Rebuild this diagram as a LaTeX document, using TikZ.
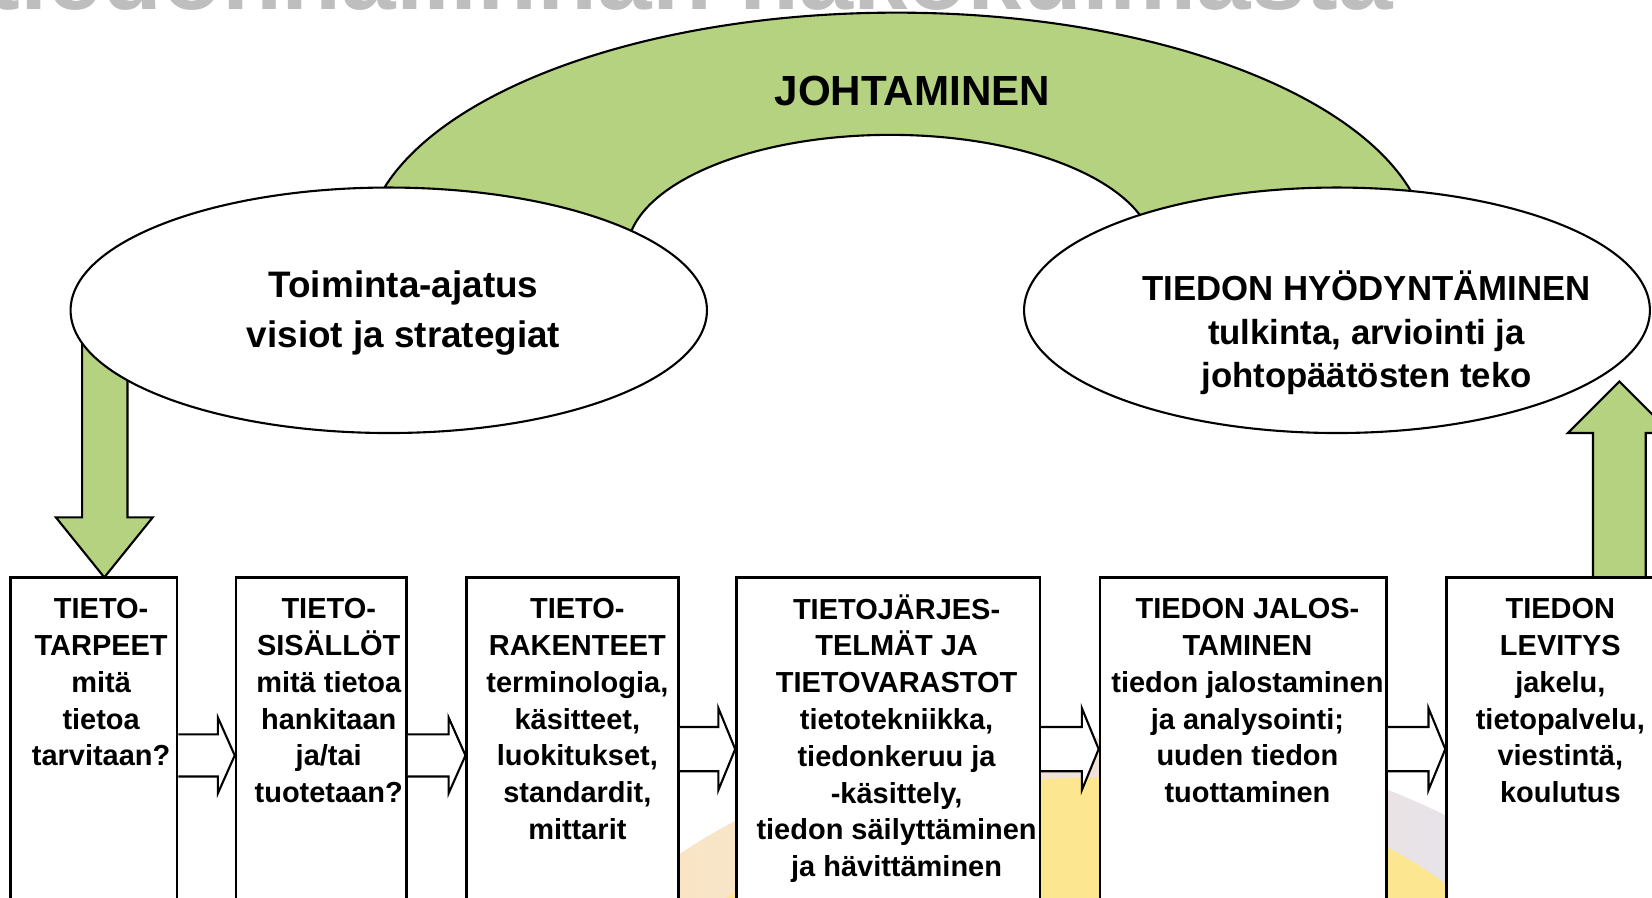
\documentclass[tikz,border=0pt]{standalone}
\usepackage{fontspec}
\setmainfont{Liberation Sans}
\usetikzlibrary{shapes.geometric,calc}
\definecolor{leafgreen}{HTML}{B4D27F}
\definecolor{titlegray}{HTML}{BEBEBE}
\definecolor{sunyellow}{HTML}{FCE690}
\definecolor{sunpeach}{HTML}{FDE6BE}
\definecolor{sunlav}{HTML}{E2E2F3}
\newcommand\linkarrow[5]{%
  \coordinate (tmpc) at (0,#3);
  \draw[flowarrow] ($(#1.east |- tmpc)+(0,-#4)$) -- ($(#2.west |- tmpc)+(-16,-#4)$)
    -- ($(#2.west |- tmpc)+(-16,-#5)$) -- (#2.west |- tmpc)
    -- ($(#2.west |- tmpc)+(-16,#5)$) -- ($(#2.west |- tmpc)+(-16,#4)$)
    -- ($(#1.east |- tmpc)+(0,#4)$);}
\begin{document}
\begin{tikzpicture}[x=1pt,y=-1pt,
  boxstyle/.style={draw, line width=2.4pt, fill=white, rectangle, inner sep=0pt, minimum height=352pt},
  boxtext/.style={anchor=north, align=center, inner sep=0pt, font=\bfseries\fontsize{27.5}{34.9}\selectfont},
  ovalstyle/.style={draw, line width=2pt, fill=white, ellipse, inner sep=0pt, minimum height=233pt},
  flowarrow/.style={draw, line width=2pt, fill=white, line join=miter},
  bigarrow/.style={draw, line width=2pt, fill=leafgreen, line join=miter}]

\useasboundingbox (0,0) rectangle (1568,851.4);

% clipped title at the top
\node[anchor=base east, inner sep=0pt, text=titlegray, font=\bfseries\fontsize{93}{100}\selectfont] (title) at (1322,9) {tiedonhallinnan näkökulmasta};

% faint background image
\shade[left color=sunpeach, right color=sunlav] (1040,1080) ellipse [x radius=560, y radius=380];
\fill[sunyellow] (1040,1100) ellipse [x radius=480, y radius=362];

% arch
\begin{scope}
\clip (0,-50) rectangle (1568,240);
\draw[line width=2pt, fill=leafgreen] (851,240) ellipse [x radius=505, y radius=228];
\draw[line width=2pt, fill=white] (845,240) ellipse [x radius=250, y radius=112];
\end{scope}
\node[font=\bfseries\fontsize{40}{48}\selectfont] (lead) at (866,86) {JOHTAMINEN};

% left down arrow
\draw[bigarrow] (78,300) -- (78,491) -- (53,491) -- (99,548) -- (145,491) -- (121,491) -- (121,300) -- cycle;

% ellipses
\node[ovalstyle, minimum width=604pt] (vision) at (369,294.5) {};
\node[ovalstyle, minimum width=594pt] (use) at (1269,294.5) {};
\node[align=center, font=\bfseries\fontsize{35}{48}\selectfont] (visiontext) at (383,297) {Toiminta-ajatus\\visiot ja strategiat};
\node[align=center, font=\bfseries\fontsize{33}{41}\selectfont] (usetext) at (1297,316) {TIEDON HYÖDYNTÄMINEN\\tulkinta, arviointi ja\\johtopäätösten teko};

% right up arrow
\draw[bigarrow] (1512,548) -- (1512,411) -- (1488,411) -- (1537,362) -- (1586,411) -- (1562,411) -- (1562,548) -- cycle;

% boxes
\node[boxstyle, minimum width=158pt] (b1) at (89,724) {};
\node[boxstyle, minimum width=162pt] (b2) at (305,724) {};
\node[boxstyle, minimum width=201pt] (b3) at (543.5,724) {};
\node[boxstyle, minimum width=288pt] (b4) at (843,724) {};
\node[boxstyle, minimum width=272pt] (b5) at (1180,724) {};
\node[boxstyle, minimum width=216pt] (b6) at (1481,724) {};

\node[boxtext] (t1) at (96,568) {TIETO-\\TARPEET\\mitä\\tietoa\\tarvitaan?};
\node[boxtext] (t2) at (312,568) {TIETO-\\SISÄLLÖT\\mitä tietoa\\hankitaan\\ja/tai\\tuotetaan?};
\node[boxtext] (t3) at (548,568) {TIETO-\\RAKENTEET\\terminologia,\\käsitteet,\\luokitukset,\\standardit,\\mittarit};
\node[boxtext] (t4) at (851,564) {TIETOJÄRJES-\\TELMÄT JA\\TIETOVARASTOT\\tietotekniikka,\\tiedonkeruu ja\\-käsittely,\\tiedon säilyttäminen\\ja hävittäminen};
\node[boxtext] (t5) at (1184,568) {TIEDON JALOS-\\TAMINEN\\tiedon jalostaminen\\ja analysointi;\\uuden tiedon\\tuottaminen};
\node[boxtext] (t6) at (1481,568) {TIEDON\\LEVITYS\\jakelu,\\tietopalvelu,\\viestintä,\\koulutus};

% flow arrows
\linkarrow{b1}{b2}{717}{20}{36}
\linkarrow{b2}{b3}{717}{20}{36}
\linkarrow{b3}{b4}{711}{21}{39}
\linkarrow{b4}{b5}{711}{21}{39}
\linkarrow{b5}{b6}{711}{21}{39}
\end{tikzpicture}
\end{document}
